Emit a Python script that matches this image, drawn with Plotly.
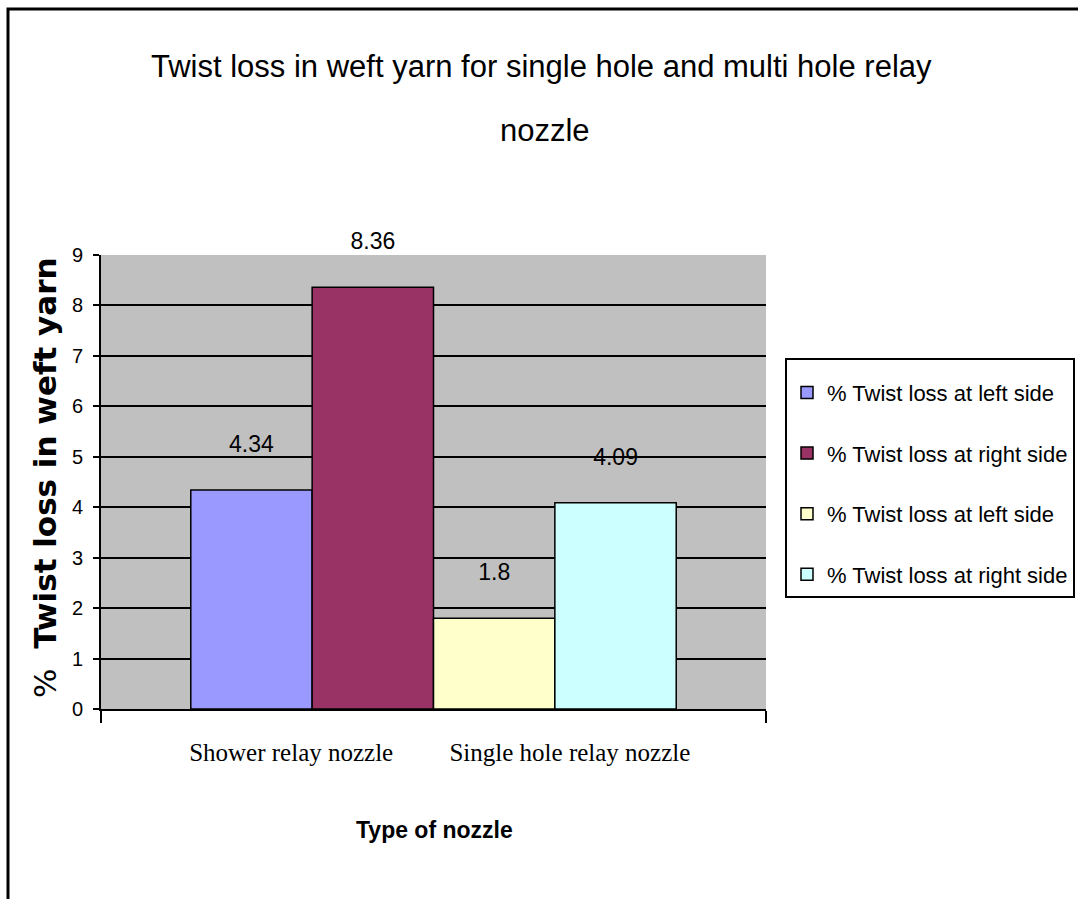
import plotly.graph_objects as go

# ---------------- data ----------------
categories = ["Shower relay nozzle", "Single hole relay nozzle"]
series_names = [
    "% Twist loss at left side",
    "% Twist loss at right side",
    "% Twist loss at left side",
    "% Twist loss at right side",
]
series_values = [4.34, 8.36, 1.8, 4.09]
series_colors = ["#9999FF", "#993366", "#FFFFCC", "#CCFFFF"]
y_ticks = list(range(0, 10))

title_line1 = "Twist loss in weft yarn for single hole and multi hole relay"
title_line2 = "nozzle"
x_title = "Type of nozzle"
y_title_pct = "%"
y_title = "Twist loss in weft yarn"

# ---------------- layout helpers ----------------
W, H = 1078, 899
PL, PR, PT, PB = 101, 766, 255, 709  # plot area in pixels


def px(x):
    return (x - PL) / (PR - PL)


def py(y):
    return (PB - y) / (PB - PT)


SANS = "Liberation Sans, Arial, sans-serif"
SERIF = "Liberation Serif, Times New Roman, serif"

NB = "\u00a0"
category_label = NB * 2 + (NB * 9).join(categories)

fig = go.Figure()
for i, (name, val, col) in enumerate(zip(series_names, series_values, series_colors)):
    fig.add_trace(go.Bar(
        x=[category_label],
        y=[val],
        name=name,
        legendgroup=f"g{i}",
        marker=dict(color=col, line=dict(color="black", width=1.5)),
        texttemplate="%{y}<br>" + NB,
        textposition="outside",
        textfont=dict(family=SANS, size=23, color="black"),
        constraintext="none",
        cliponaxis=False,
        hoverinfo="skip",
    ))

fig.update_layout(
    width=W, height=H,
    margin=dict(l=PL, r=W - PR, t=PT, b=H - PB, autoexpand=False),
    paper_bgcolor="white",
    plot_bgcolor="#C0C0C0",
    barmode="group",
    bargap=0.27,
    bargroupgap=0,
    showlegend=True,
    legend=dict(
        x=px(785), y=py(358), xanchor="left", yanchor="top",
        bgcolor="white", bordercolor="black", borderwidth=2,
        font=dict(family=SANS, size=22, color="black"),
        title=dict(text=NB, font=dict(family=SANS, size=9)),
        tracegroupgap=29,
        itemclick=False, itemdoubleclick=False,
    ),
    xaxis=dict(
        type="category",
        showline=True, linecolor="black", linewidth=2,
        ticks="outside", tickson="boundaries", ticklen=12, tickwidth=2, tickcolor="black",
        showgrid=False,
        tickfont=dict(family=SERIF, size=25, color="black"),
        ticklabelstandoff=20,
        fixedrange=True,
    ),
    yaxis=dict(
        range=[0, 9],
        tickvals=y_ticks,
        showline=True, linecolor="black", linewidth=2,
        ticks="outside", ticklen=6, tickwidth=2, tickcolor="black",
        showgrid=True, gridcolor="black", gridwidth=2,
        zeroline=False,
        tickfont=dict(family=SANS, size=20, color="black"),
        ticklabelstandoff=6,
        fixedrange=True,
    ),
)

annotations = [
    dict(text=title_line1, x=px(541), y=py(67), xref="paper", yref="paper",
         xanchor="center", yanchor="middle", showarrow=False,
         font=dict(family=SANS, size=31, color="black")),
    dict(text=title_line2, x=px(545), y=py(130), xref="paper", yref="paper",
         xanchor="center", yanchor="middle", showarrow=False,
         font=dict(family=SANS, size=31, color="black")),
    dict(text="<b>" + x_title + "</b>", x=px(434), y=py(830), xref="paper", yref="paper",
         xanchor="center", yanchor="middle", showarrow=False,
         font=dict(family=SANS, size=23, color="black")),
    dict(text=y_title_pct + NB * 2 + "<b>" + y_title + "</b>",
         x=px(45), y=py(478), xref="paper", yref="paper",
         xanchor="center", yanchor="middle", showarrow=False, textangle=-90,
         font=dict(family="DejaVu Sans, sans-serif", size=31, color="black")),
]
fig.update_layout(annotations=annotations)

# outer chart border (cropped at right/bottom in the reference)
fig.add_shape(type="rect", xref="paper", yref="paper",
              x0=px(8), x1=px(1100), y0=py(920), y1=py(9),
              line=dict(color="black", width=3), fillcolor="rgba(0,0,0,0)", layer="above")

fig.write_html("out.html")
